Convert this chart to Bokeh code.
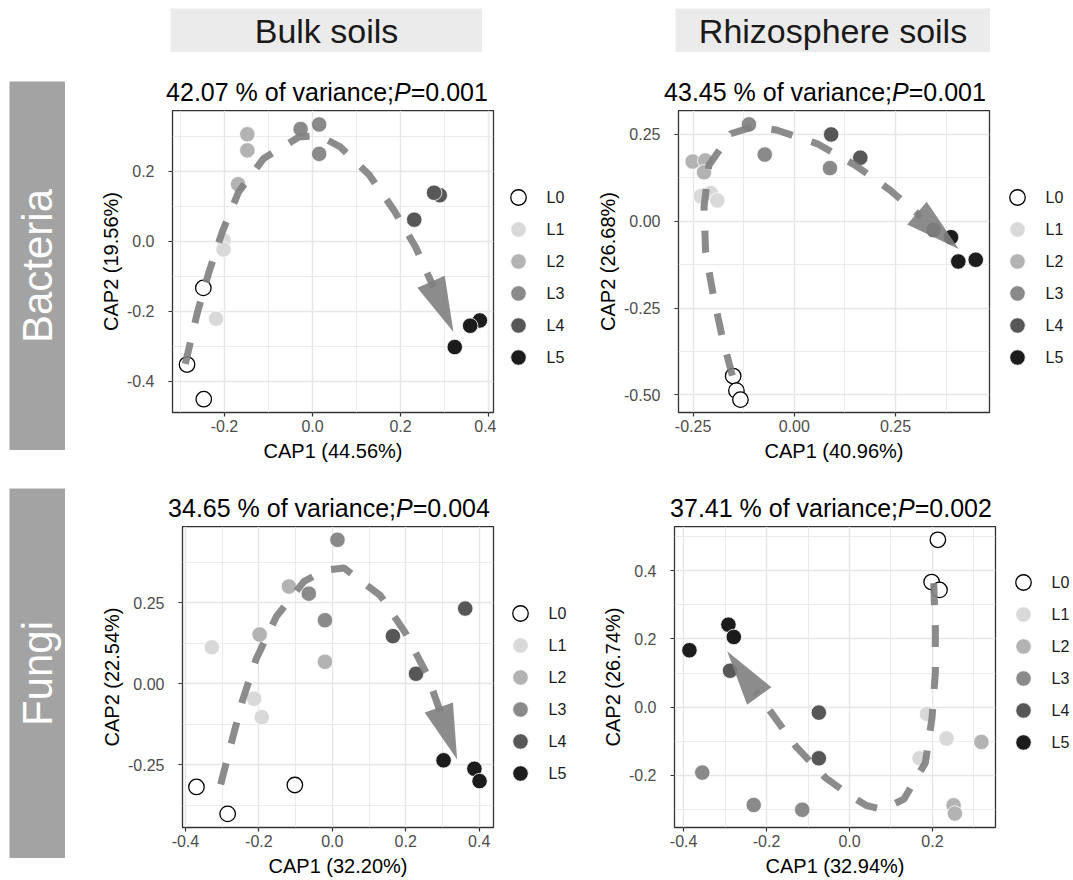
import math

from bokeh.core.properties import value
from bokeh.embed import file_html
from bokeh.layouts import column, row
from bokeh.models import Div, FixedTicker, Range1d, Spacer
from bokeh.plotting import figure
from bokeh.resources import INLINE

FONT = "Liberation Sans"

# ---------------------------------------------------------------- data
levels = ["L0", "L1", "L2", "L3", "L4", "L5"]
level_fill = ["#ffffff", "#d9d9d9", "#b3b3b3", "#8a8a8a", "#575757", "#1c1c1c"]
level_edge = ["#000000", "#ffffff", "#ffffff", "#ffffff", "#ffffff", "#ffffff"]
group = [lv for lv in levels for _ in range(3)]

row_names = ["Bacteria", "Fungi"]
col_names = ["Bulk soils", "Rhizosphere soils"]

# Bacteria / bulk soils
bb_x = [-0.248, -0.285, -0.247, -0.202, -0.202, -0.219, -0.148, -0.148, -0.169,
        -0.027, 0.015, 0.015, 0.289, 0.276, 0.231, 0.380, 0.358, 0.323]
bb_y = [-0.133, -0.352, -0.451, 0.003, -0.023, -0.221, 0.306, 0.260, 0.163,
        0.321, 0.334, 0.250, 0.132, 0.139, 0.062, -0.226, -0.241, -0.302]
bb_curve_x = [-0.289, -0.262, -0.236, -0.205, -0.168, -0.111, -0.031, 0.015, 0.062,
              0.128, 0.185, 0.234, 0.320]
bb_curve_y = [-0.350, -0.206, -0.091, 0.027, 0.141, 0.237, 0.298, 0.302, 0.271,
              0.191, 0.089, -0.016, -0.259]
bb_stats = ("42.07", "0.001")
bb_axis_labels = ("CAP1 (44.56%)", "CAP2 (19.56%)")
bb_xticks = [-0.2, 0.0, 0.2, 0.4]
bb_xtick_labels = ["-0.2", "0.0", "0.2", "0.4"]
bb_yticks = [-0.4, -0.2, 0.0, 0.2]
bb_ytick_labels = ["-0.4", "-0.2", "0.0", "0.2"]

# Bacteria / rhizosphere soils
br_x = [-0.151, -0.143, -0.133, -0.231, -0.206, -0.190, -0.251, -0.220, -0.223,
        -0.112, -0.073, 0.088, 0.091, 0.163, 0.344, 0.387, 0.405, 0.448]
br_y = [-0.446, -0.488, -0.514, 0.072, 0.081, 0.060, 0.172, 0.175, 0.141,
        0.279, 0.192, 0.153, 0.250, 0.183, -0.025, -0.046, -0.116, -0.111]
br_curve_x = [-0.153, -0.178, -0.200, -0.219, -0.223, -0.211, -0.157, -0.100, -0.042,
              0.057, 0.151, 0.237, 0.406]
br_curve_y = [-0.445, -0.334, -0.214, -0.089, 0.040, 0.161, 0.252, 0.273, 0.262,
              0.223, 0.161, 0.089, -0.080]
br_stats = ("43.45", "0.001")
br_axis_labels = ("CAP1 (40.96%)", "CAP2 (26.68%)")
br_xticks = [-0.25, 0.0, 0.25]
br_xtick_labels = ["-0.25", "0.00", "0.25"]
br_yticks = [-0.5, -0.25, 0.0, 0.25]
br_ytick_labels = ["-0.50", "-0.25", "0.00", "0.25"]

# Fungi / bulk soils
fb_x = [-0.370, -0.285, -0.102, -0.328, -0.213, -0.192, -0.118, -0.198, -0.020,
        0.014, -0.064, -0.020, 0.165, 0.228, 0.362, 0.303, 0.387, 0.401]
fb_y = [-0.318, -0.401, -0.312, 0.113, -0.046, -0.103, 0.300, 0.152, 0.068,
        0.444, 0.278, 0.196, 0.147, 0.031, 0.232, -0.236, -0.262, -0.300]
fb_curve_x = [-0.304, -0.276, -0.245, -0.208, -0.152, -0.077, -0.020, 0.032, 0.131,
              0.199, 0.258, 0.340]
fb_curve_y = [-0.310, -0.187, -0.053, 0.075, 0.208, 0.316, 0.350, 0.357, 0.272,
              0.157, 0.029, -0.233]
fb_stats = ("34.65", "0.004")
fb_axis_labels = ("CAP1 (32.20%)", "CAP2 (22.54%)")
fb_xticks = [-0.4, -0.2, 0.0, 0.2, 0.4]
fb_xtick_labels = ["-0.4", "-0.2", "0.0", "0.2", "0.4"]
fb_yticks = [-0.25, 0.0, 0.25]
fb_ytick_labels = ["-0.25", "0.00", "0.25"]

# Fungi / rhizosphere soils
fr_x = [0.213, 0.198, 0.217, 0.187, 0.234, 0.169, 0.318, 0.251, 0.254,
        -0.355, -0.231, -0.114, -0.288, -0.074, -0.074, -0.386, -0.292, -0.279]
fr_y = [0.491, 0.367, 0.344, -0.020, -0.092, -0.150, -0.102, -0.288, -0.312,
        -0.192, -0.287, -0.301, 0.107, -0.016, -0.150, 0.167, 0.242, 0.206]
fr_curve_x = [0.203, 0.207, 0.207, 0.199, 0.183, 0.131, 0.080, 0.040, 0.000,
              -0.058, -0.130, -0.194, -0.295]
fr_curve_y = [0.364, 0.232, 0.101, -0.031, -0.163, -0.270, -0.300, -0.288, -0.258,
              -0.207, -0.114, -0.007, 0.164]
fr_stats = ("37.41", "0.002")
fr_axis_labels = ("CAP1 (32.94%)", "CAP2 (26.74%)")
fr_xticks = [-0.4, -0.2, 0.0, 0.2]
fr_xtick_labels = ["-0.4", "-0.2", "0.0", "0.2"]
fr_yticks = [-0.2, 0.0, 0.2, 0.4]
fr_ytick_labels = ["-0.2", "0.0", "0.2", "0.4"]

# ---------------------------------------------------------------- style
PANEL_BORDER = "#333333"
GRID = "#e6e6e6"
TICK_TEXT = "#4d4d4d"
CURVE = "#7f7f7f"
TOP_STRIP = "#ebebeb"
SIDE_STRIP = "#a3a3a3"


def minor_between(ticks, lo, hi):
    step = ticks[1] - ticks[0]
    cand = [ticks[0] - step / 2] + [t + step / 2 for t in ticks]
    return [round(c, 4) for c in cand if lo <= c <= hi]


def blank(width, height, x_range, y_range, fill="white"):
    return figure(width=width, height=height, x_range=x_range, y_range=y_range,
                  x_axis_type=None, y_axis_type=None, output_backend="svg",
                  toolbar_location=None, min_border=0, outline_line_color=None,
                  background_fill_color=fill, border_fill_color=fill)


def make_panel(spec):
    fw, fh = spec["fw"], spec["fh"]
    left, right, bottom = spec["left"], spec["right"], spec["bottom"]
    xr, yr = spec["xr"], spec["yr"]
    p = figure(width=left + fw + right, height=fh + bottom,
               x_range=Range1d(*xr), y_range=Range1d(*yr),
               output_backend="svg", toolbar_location=None,
               min_border_left=left, min_border_right=right,
               min_border_top=0, min_border_bottom=bottom,
               background_fill_color="white", border_fill_color="white")
    p.outline_line_color = PANEL_BORDER
    p.outline_line_width = 1.3

    xt = FixedTicker(ticks=spec["xticks"], minor_ticks=minor_between(spec["xticks"], *xr))
    yt = FixedTicker(ticks=spec["yticks"], minor_ticks=minor_between(spec["yticks"], *yr))
    p.xaxis.ticker = xt
    p.xgrid.ticker = xt
    p.yaxis.ticker = yt
    p.ygrid.ticker = yt
    p.xaxis.major_label_overrides = dict(zip(spec["xticks"], spec["xlabels"]))
    p.yaxis.major_label_overrides = dict(zip(spec["yticks"], spec["ylabels"]))
    for g in (p.xgrid, p.ygrid):
        g.grid_line_color = GRID
        g.grid_line_width = 1.4
        g.minor_grid_line_color = GRID
        g.minor_grid_line_width = 0.8
    for ax in (p.xaxis[0], p.yaxis[0]):
        ax.axis_line_color = None
        ax.major_tick_line_color = PANEL_BORDER
        ax.major_tick_line_width = 1.2
        ax.major_tick_in = 0
        ax.major_tick_out = 4
        ax.minor_tick_line_color = None
        ax.major_label_text_font = FONT
        ax.major_label_text_font_size = "16px"
        ax.major_label_text_color = TICK_TEXT
        ax.axis_label_text_font = FONT
        ax.axis_label_text_font_size = "20px"
        ax.axis_label_text_font_style = "normal"
        ax.axis_label_text_color = "black"
    p.xaxis.axis_label = spec["axis_labels"][0]
    p.yaxis.axis_label = spec["axis_labels"][1]
    p.xaxis.major_label_standoff = 3
    p.xaxis.axis_label_standoff = 5
    p.yaxis.major_label_standoff = 14
    p.yaxis.axis_label_standoff = 2

    # samples, one renderer per level
    for i, lv in enumerate(levels):
        xs = [x for x, g in zip(spec["x"], group) if g == lv]
        ys = [y for y, g in zip(spec["y"], group) if g == lv]
        p.scatter(xs, ys, size=15.5, marker="circle",
                  fill_color=level_fill[i], line_color=level_edge[i],
                  line_width=1.3 if i == 0 else 0.8)

    # dashed trend path with a closed arrow head at its end
    cx, cy = spec["cx"], spec["cy"]
    kx = fw / (xr[1] - xr[0])
    ky = fh / (yr[1] - yr[0])
    tx, ty = cx[-1] * kx, cy[-1] * ky
    qx, qy = cx[-2] * kx, cy[-2] * ky
    d = math.hypot(tx - qx, ty - qy)
    ux, uy = (tx - qx) / d, (ty - qy) / d
    head_len, head_w = 55.0, 30.0
    bx, by = tx - head_len * ux, ty - head_len * uy
    nx, ny = -uy, ux
    head_x = [tx / kx, (bx + head_w / 2 * nx) / kx, (bx - head_w / 2 * nx) / kx]
    head_y = [ty / ky, (by + head_w / 2 * ny) / ky, (by - head_w / 2 * ny) / ky]
    line_x = cx[:-1] + [(bx + 6 * ux) / kx]
    line_y = cy[:-1] + [(by + 6 * uy) / ky]
    p.line(line_x, line_y, line_color=CURVE, line_width=7, line_alpha=0.9,
           line_dash="22 20")
    p.patch(head_x, head_y, fill_color=CURVE, fill_alpha=0.9, line_color=None)
    return p


def make_legend(width, height, key_x, first_y, pitch=32):
    # key column for the six levels, laid out in pixel coordinates (y downwards)
    lg = blank(width, height, Range1d(0, width), Range1d(height, 0))
    ys = [first_y + pitch * i for i in range(len(levels))]
    for i, lv in enumerate(levels):
        lg.scatter([key_x], [ys[i]], size=15.5, marker="circle",
                   fill_color=level_fill[i], line_color=level_edge[i],
                   line_width=1.3 if i == 0 else 0.8)
    lg.text(x=[key_x + 28] * len(levels), y=ys, text=levels, text_font=value(FONT),
            text_font_size="16px", text_align="left", text_baseline="middle",
            text_color="#1a1a1a")
    return lg


def make_title(stats, col_width, center, top_pad):
    # "xx.xx % of variance; P=..." with an italic P, centred on `center`
    var, pv = stats
    half = min(center, col_width - center)
    div = Div(text=f"{var} % of variance;<i>P</i>=" + pv, width=int(2 * half), height=28,
              margin=0,
              styles={"font-family": FONT, "font-size": "25px", "line-height": "28px",
                      "color": "black", "text-align": "center", "white-space": "nowrap"})
    return column(Spacer(width=col_width, height=top_pad),
                  row(Spacer(width=int(center - half), height=28), div))


def make_strip(label, width, height, fill, color, size, angle=0.0):
    s = blank(width, height, Range1d(0, 1), Range1d(0, 1), fill=fill)
    s.text(x=[0.5], y=[0.5], text=[label], text_font=value(FONT),
           text_font_size=f"{size}px", text_align="center",
           text_baseline="middle", text_color=color, angle=angle)
    return s


panels = {
    "bb": dict(x=bb_x, y=bb_y, cx=bb_curve_x, cy=bb_curve_y, stats=bb_stats,
               axis_labels=bb_axis_labels, xticks=bb_xticks, xlabels=bb_xtick_labels,
               yticks=bb_yticks, ylabels=bb_ytick_labels,
               xr=(-0.318, 0.411), yr=(-0.489, 0.374),
               left=97, fw=321, right=3, fh=302, bottom=58),
    "br": dict(x=br_x, y=br_y, cx=br_curve_x, cy=br_curve_y, stats=br_stats,
               axis_labels=br_axis_labels, xticks=br_xticks, xlabels=br_xtick_labels,
               yticks=br_yticks, ylabels=br_ytick_labels,
               xr=(-0.286, 0.482), yr=(-0.551, 0.319),
               left=88, fw=311, right=3, fh=302, bottom=58),
    "fb": dict(x=fb_x, y=fb_y, cx=fb_curve_x, cy=fb_curve_y, stats=fb_stats,
               axis_labels=fb_axis_labels, xticks=fb_xticks, xlabels=fb_xtick_labels,
               yticks=fb_yticks, ylabels=fb_ytick_labels,
               xr=(-0.408, 0.439), yr=(-0.443, 0.485),
               left=107, fw=311, right=3, fh=301, bottom=53),
    "fr": dict(x=fr_x, y=fr_y, cx=fr_curve_x, cy=fr_curve_y, stats=fr_stats,
               axis_labels=fr_axis_labels, xticks=fr_xticks, xlabels=fr_xtick_labels,
               yticks=fr_yticks, ylabels=fr_ytick_labels,
               xr=(-0.422, 0.352), yr=(-0.353, 0.530),
               left=84, fw=321, right=3, fh=301, bottom=53),
}


def panel_column(key, title_h, title_pad, title_center):
    spec = panels[key]
    w = spec["left"] + spec["fw"] + spec["right"]
    head = make_title(spec["stats"], w, title_center, title_pad)
    return column(column(head, Spacer(width=w, height=title_h - title_pad - 28)),
                  make_panel(spec))


# column headers
top = row(
    Spacer(width=170, height=60),
    column(Spacer(width=312, height=8), make_strip(col_names[0], 312, 44, TOP_STRIP, "#1a1a1a", 34)),
    Spacer(width=193, height=60),
    column(Spacer(width=315, height=8), make_strip(col_names[1], 315, 44, TOP_STRIP, "#1a1a1a", 34)),
)


def side(label, pad_top, h):
    return column(
        Spacer(width=75, height=pad_top),
        row(Spacer(width=9, height=h),
            make_strip(label, 56, h, SIDE_STRIP, "white", 42, angle=math.pi / 2),
            Spacer(width=10, height=h)),
    )


bac = row(
    side(row_names[0], 21, 369),
    panel_column("bb", 50, 18, 252),
    make_legend(94, 410, 22, 137),
    panel_column("br", 50, 18, 235),
    make_legend(81, 410, 25, 137),
)
fun = row(
    side(row_names[1], 18, 370),
    panel_column("fb", 56, 24, 254),
    make_legend(94, 410, 24, 143),
    panel_column("fr", 56, 24, 241),
    make_legend(75, 410, 25, 112),
)

page = column(top, bac, fun)
open("out.html", "w").write(file_html(page, INLINE))
